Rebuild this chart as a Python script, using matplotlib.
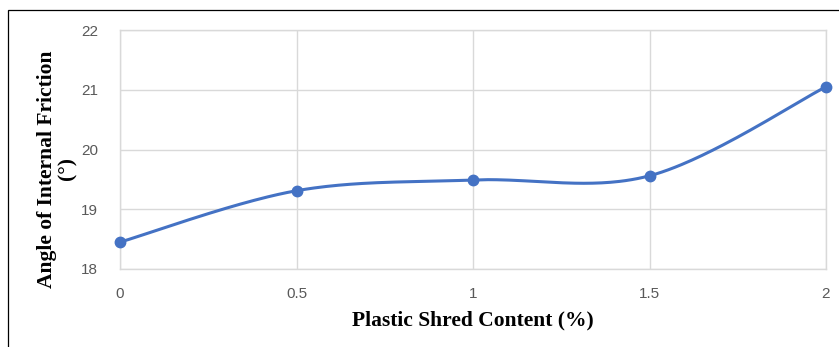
import numpy as np
import matplotlib
matplotlib.use("Agg")
import matplotlib.pyplot as plt
from matplotlib.patches import Rectangle

content = [0, 0.5, 1, 1.5, 2]
friction = [18.45, 19.31, 19.49, 19.56, 21.05]
xticks = [0, 0.5, 1, 1.5, 2]
xticklabels = ["0", "0.5", "1", "1.5", "2"]
yticks = [18, 19, 20, 21, 22]

def smooth(xs, ys, n=60):
    xs = np.asarray(xs, float); ys = np.asarray(ys, float)
    P = np.column_stack([xs, ys])
    out = []
    for i in range(len(P) - 1):
        p0 = P[i - 1] if i > 0 else P[i]
        p3 = P[i + 2] if i + 2 < len(P) else P[i + 1]
        p1, p2 = P[i], P[i + 1]
        c1 = p1 + (p2 - p0) / 6.0
        c2 = p2 - (p3 - p1) / 6.0
        t = np.linspace(0, 1, n)[:, None]
        seg = ((1 - t) ** 3) * p1 + 3 * ((1 - t) ** 2) * t * c1 + 3 * (1 - t) * t ** 2 * c2 + t ** 3 * p2
        out.append(seg if i == 0 else seg[1:])
    s = np.vstack(out)
    return s[:, 0], s[:, 1]

fig = plt.figure(figsize=(8.39, 3.47), dpi=100)
ax = fig.add_axes([120 / 839, 1 - 269 / 347, (826 - 120) / 839, (269 - 30) / 347])

sx, sy = smooth(content, friction)
ax.plot(sx, sy, color="#4472C4", lw=2.2, solid_capstyle="round", zorder=3)
ax.plot(content, friction, "o", color="#4472C4", ms=7.5, zorder=4, clip_on=False)

ax.set_xlim(0, 2)
ax.set_ylim(18, 22)
ax.set_xticks(xticks)
ax.set_xticklabels(xticklabels)
ax.set_yticks(yticks)
ax.grid(True, color="#d9d9d9", lw=1.0)
ax.set_axisbelow(True)
for s in ax.spines.values():
    s.set_color("#d9d9d9")
    s.set_linewidth(1.0)
ax.tick_params(length=0, colors="#595959", labelsize=11, pad=13)
ax.tick_params(axis="y", pad=16)
for lab in ax.get_xticklabels() + ax.get_yticklabels():
    lab.set_fontfamily("Liberation Sans")

ax.set_xlabel("Plastic Shred Content (%)", fontfamily="Liberation Serif", fontweight="bold",
              fontsize=15.5, labelpad=7)
fig.text(57 / 839, 1 - 169 / 347, "Angle of Internal Friction\n(°)", rotation=90,
         ha="center", va="center", multialignment="center",
         fontfamily="Liberation Serif", fontweight="bold", fontsize=15.5, linespacing=1.05)

fig.patches.append(Rectangle((8 / 839, -0.05), 1.1, 1 - 10 / 347 + 0.05, transform=fig.transFigure,
                             fill=False, edgecolor="black", lw=0.9))

fig.savefig("out.png", dpi=100)
